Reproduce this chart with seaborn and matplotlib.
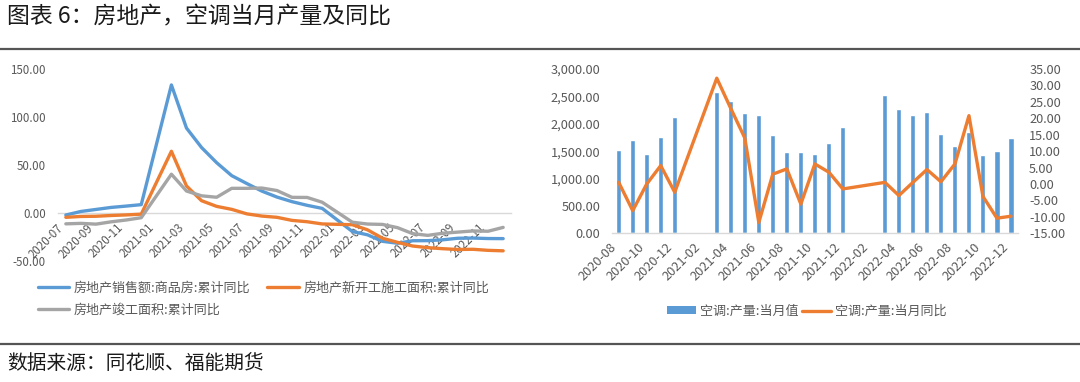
import numpy as np
import pandas as pd
import seaborn as sns
import matplotlib
matplotlib.use("Agg")
import matplotlib.pyplot as plt
from matplotlib.lines import Line2D
from matplotlib.patches import Patch
from matplotlib.ticker import FuncFormatter, FixedLocator

# ---------------- data ----------------
# Left chart: monthly, 2020-07 .. 2022-12 (January values not published)
left_months = ["2020-07", "2020-08", "2020-09", "2020-10", "2020-11", "2020-12",
               "2021-01", "2021-02", "2021-03", "2021-04", "2021-05", "2021-06",
               "2021-07", "2021-08", "2021-09", "2021-10", "2021-11", "2021-12",
               "2022-01", "2022-02", "2022-03", "2022-04", "2022-05", "2022-06",
               "2022-07", "2022-08", "2022-09", "2022-10", "2022-11", "2022-12"]
sales_yoy = [-2.1, 1.6, 3.7, 5.8, 7.2, 8.7,
             np.nan, 133.4, 88.5, 68.2, 52.4, 38.9,
             30.7, 22.8, 16.6, 11.8, 8.0, 4.8,
             np.nan, -19.3, -22.7, -29.5, -31.5, -28.9,
             -28.8, -27.9, -26.3, -26.1, -26.6, -26.7]
newstart_yoy = [-4.5, -3.6, -3.4, -2.6, -2.0, -1.2,
                np.nan, 64.3, 28.2, 12.8, 6.9, 3.8,
                -0.9, -3.2, -4.5, -7.7, -9.1, -11.4,
                np.nan, -12.2, -17.5, -26.3, -30.6, -34.4,
                -36.1, -37.2, -38.0, -37.8, -38.9, -39.4]
complete_yoy = [-11.3, -10.8, -11.6, -9.2, -7.3, -4.9,
                np.nan, 40.4, 22.9, 17.9, 16.4, 25.7,
                25.7, 26.0, 23.4, 16.3, 16.2, 11.2,
                np.nan, -9.6, -11.5, -11.9, -15.3, -21.5,
                -23.3, -21.1, -19.9, -18.7, -19.0, -15.0]
left_names = ["房地产销售额:商品房:累计同比", "房地产新开工施工面积:累计同比", "房地产竣工面积:累计同比"]

# Right chart: monthly, 2020-08 .. 2022-12
right_months = ["2020-08", "2020-09", "2020-10", "2020-11", "2020-12",
                "2021-01", "2021-02", "2021-03", "2021-04", "2021-05", "2021-06",
                "2021-07", "2021-08", "2021-09", "2021-10", "2021-11", "2021-12",
                "2022-01", "2022-02", "2022-03", "2022-04", "2022-05", "2022-06",
                "2022-07", "2022-08", "2022-09", "2022-10", "2022-11", "2022-12"]
ac_output = [1528, 1704, 1449, 1765, 2130,
             np.nan, np.nan, 2575, 2410, 2191, 2155,
             1789, 1491, 1491, 1449, 1649, 1948,
             np.nan, np.nan, 2532, 2270, 2167, 2215,
             1814, 1589, 1850, 1430, 1509, 1747]
ac_yoy = [0.5, -8.1, 0.0, 5.6, -2.5,
          np.nan, np.nan, 32.2, 23.0, 14.0, -11.7,
          3.0, 4.6, -6.1, 6.1, 3.6, -1.5,
          np.nan, np.nan, 0.5, -3.5, 0.5, 4.4,
          0.7, 6.1, 20.8, -3.8, -10.4, -9.8]
right_names = ["空调:产量:当月值", "空调:产量:当月同比"]

title_text = "图表 6：房地产，空调当月产量及同比"
source_text = "数据来源：同花顺、福能期货"

# ---------------- style ----------------
sns.set_theme(style="white")
plt.rcParams["font.family"] = ["Noto Sans CJK SC", "DejaVu Sans"]
plt.rcParams["axes.unicode_minus"] = False

BLUE = "#5B9BD5"
ORANGE = "#ED7D31"
GRAY = "#A5A5A5"
TXT = "#595959"
AX = "#D9D9D9"

W, H = 1080, 382
fig = plt.figure(figsize=(W / 100, H / 100), dpi=100)

def fx(px):
    return px / W

def fy(py):
    return 1 - py / H

# ---------------- left chart ----------------
axL = fig.add_axes([fx(58.3), fy(261), fx(510.7 - 58.3), fy(69) - fy(261)])
ldf = pd.DataFrame({"idx": np.arange(len(left_months)),
                    left_names[0]: sales_yoy,
                    left_names[1]: newstart_yoy,
                    left_names[2]: complete_yoy})
long = ldf.melt(id_vars="idx", var_name="series", value_name="val").dropna()
sns.lineplot(data=long, x="idx", y="val", hue="series", hue_order=left_names,
             palette=[BLUE, ORANGE, GRAY], linewidth=2.4, ax=axL, legend=False,
             estimator=None, sort=True)
axL.set_xlim(-0.5, len(left_months) - 0.5)
axL.set_ylim(-50, 150)
axL.set_yticks([-50, 0, 50, 100, 150])
axL.yaxis.set_major_formatter(FuncFormatter(lambda v, p: f"{v:.2f}"))
axL.set_xlabel("")
axL.set_ylabel("")
for s in ["top", "right", "left"]:
    axL.spines[s].set_visible(False)
axL.spines["bottom"].set_position(("data", 0))
axL.spines["bottom"].set_color(AX)
axL.spines["bottom"].set_linewidth(1.0)
axL.spines["bottom"].set_zorder(0)
lpos = list(range(0, len(left_months), 2))
axL.xaxis.set_major_locator(FixedLocator(lpos))
axL.set_xticklabels([left_months[i] for i in lpos])
axL.xaxis.set_minor_locator(FixedLocator(np.arange(-0.5, len(left_months), 2)))
axL.tick_params(axis="x", which="major", length=0, pad=6, labelsize=8.3, labelcolor=TXT)
axL.tick_params(axis="x", which="minor", length=4, color=AX, direction="in", width=1)
axL.tick_params(axis="y", length=0, pad=9, labelsize=8.3, labelcolor=TXT)
for lab in axL.get_xticklabels():
    lab.set_rotation(45)
    lab.set_ha("right")
    lab.set_va("top")

# ---------------- right chart ----------------
axR = fig.add_axes([fx(611.7), fy(233.3), fx(1018 - 611.7), fy(69) - fy(233.3)])
rdf = pd.DataFrame({"idx": np.arange(len(right_months)),
                    "output": ac_output, "yoy": ac_yoy})
bdf = rdf.dropna(subset=["output"])
sns.barplot(data=bdf, x="idx", y="output", native_scale=True, color=BLUE,
            saturation=1, width=0.36, ax=axR)
axR.set_xlim(-0.5, len(right_months) - 0.5)
axR.set_ylim(0, 3000)
axR.set_yticks(np.arange(0, 3001, 500))
axR.yaxis.set_major_formatter(FuncFormatter(lambda v, p: f"{v:,.2f}"))
axR.set_xlabel("")
axR.set_ylabel("")
for s in ["top", "right", "left"]:
    axR.spines[s].set_visible(False)
axR.spines["bottom"].set_color(AX)
axR.spines["bottom"].set_linewidth(1.0)
rpos = list(range(0, len(right_months), 2))
axR.xaxis.set_major_locator(FixedLocator(rpos))
axR.set_xticklabels([right_months[i] for i in rpos])
axR.xaxis.set_minor_locator(FixedLocator(np.arange(-0.5, len(right_months), 2)))
axR.tick_params(axis="x", which="major", length=0, pad=5, labelsize=9.2, labelcolor=TXT)
axR.tick_params(axis="x", which="minor", length=4, color=AX, direction="out", width=1)
axR.tick_params(axis="y", length=0, pad=8, labelsize=9.2, labelcolor=TXT)
for lab in axR.get_xticklabels():
    lab.set_rotation(45)
    lab.set_ha("right")
    lab.set_va("top")

axR2 = axR.twinx()
ldf2 = rdf.dropna(subset=["yoy"])
sns.lineplot(data=ldf2, x="idx", y="yoy", color=ORANGE, linewidth=2.4, ax=axR2,
             estimator=None)
axR2.set_ylim(-15, 35)
axR2.set_yticks(np.arange(-15, 36, 5))
axR2.yaxis.set_major_formatter(FuncFormatter(lambda v, p: f"{v:.2f}"))
axR2.set_ylabel("")
for s in ["top", "right", "left", "bottom"]:
    axR2.spines[s].set_visible(False)
axR2.tick_params(axis="y", length=0, pad=8, labelsize=9.2, labelcolor=TXT)
axR2.set_xlim(-0.5, len(right_months) - 0.5)

# ---------------- legends ----------------
lh = [Line2D([], [], color=BLUE, lw=2.4),
      Line2D([], [], color=GRAY, lw=2.4),
      Line2D([], [], color=ORANGE, lw=2.4)]
fig.legend(lh, [left_names[0], left_names[2], left_names[1]], ncol=2,
           loc="upper left", bbox_to_anchor=(fx(38), fy(282)), frameon=False,
           fontsize=9.4, labelcolor=TXT, handlelength=2.4, handletextpad=0.35,
           columnspacing=1.3, labelspacing=0.65, borderpad=0, borderaxespad=0)

rh = [Patch(facecolor=BLUE, edgecolor="none"),
      Line2D([], [], color=ORANGE, lw=2.4)]
fig.legend(rh, right_names, ncol=2, loc="center left",
           bbox_to_anchor=(fx(667), fy(311.5)), frameon=False, fontsize=9.4,
           labelcolor=TXT, handlelength=2.2, handleheight=0.55, handletextpad=0.3,
           columnspacing=0.3, borderpad=0, borderaxespad=0)

# ---------------- title / source / rules ----------------
fig.text(fx(7), fy(17), title_text, fontsize=16.5, color="#1a1a1a",
         ha="left", va="center")
fig.add_artist(Line2D([0, 1], [fy(49), fy(49)], color="#555555", lw=1.6))
fig.add_artist(Line2D([0, 1], [fy(343.5), fy(343.5)], color="#555555", lw=1.6))
fig.text(fx(7), fy(364), source_text, fontsize=14.2, color="#1a1a1a",
         ha="left", va="center")

fig.savefig("out.png", dpi=100)
